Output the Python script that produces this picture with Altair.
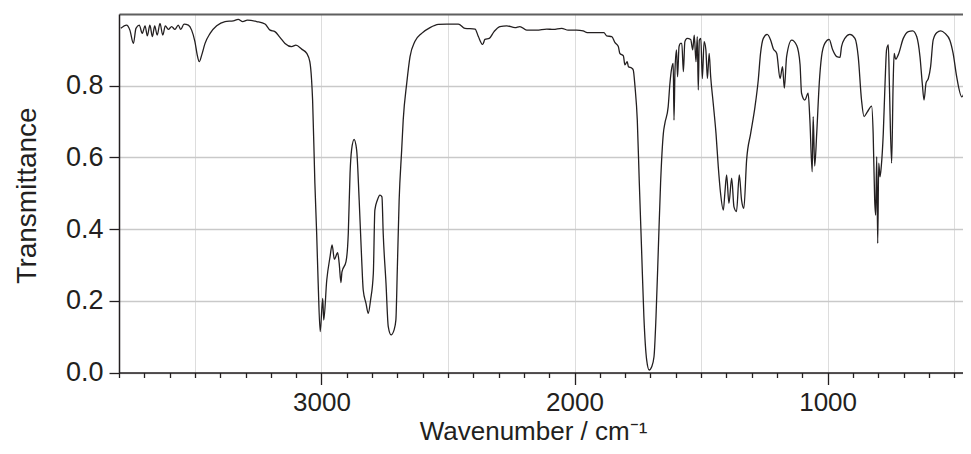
import altair as alt
import pandas as pd

wavenumber = [
    3793, 3770, 3757, 3743, 3733, 3720, 3708, 3697, 3688, 3678, 3668, 3659, 3649, 3638, 3627, 3617,
    3605, 3592, 3579, 3566, 3556, 3543, 3526, 3513, 3500, 3491, 3483, 3473, 3460, 3440, 3414, 3381,
    3348, 3329, 3311, 3293, 3256, 3223, 3203, 3184, 3164, 3144, 3118, 3101, 3078, 3058, 3046, 3039,
    3035, 3026, 3019, 3013, 3005, 2995, 2991, 2979, 2966, 2958, 2949, 2936, 2930, 2923, 2919, 2903,
    2894, 2887, 2881, 2871, 2861, 2851, 2841, 2835, 2824, 2815, 2806, 2795, 2789, 2779, 2769, 2761,
    2756, 2745, 2736, 2725, 2713, 2706, 2700, 2693, 2683, 2677, 2663, 2650, 2631, 2604, 2571, 2538,
    2505, 2459, 2433, 2393, 2380, 2363, 2354, 2337, 2318, 2295, 2268, 2235, 2216, 2189, 2150, 2110,
    2084, 2051, 2025, 1992, 1966, 1950, 1913, 1884, 1873, 1853, 1840, 1827, 1821, 1807, 1801, 1792,
    1787, 1774, 1768, 1761, 1752, 1744, 1735, 1726, 1715, 1705, 1695, 1686, 1678, 1669, 1660, 1649,
    1643, 1630, 1623, 1616, 1610, 1607, 1603, 1597, 1593, 1587, 1581, 1576, 1570, 1564, 1555, 1541,
    1533, 1527, 1520, 1515, 1511, 1507, 1501, 1495, 1488, 1481, 1475, 1468, 1462, 1452, 1441, 1432,
    1423, 1412, 1406, 1399, 1390, 1379, 1370, 1360, 1349, 1340, 1331, 1320, 1304, 1287, 1274, 1265,
    1254, 1239, 1225, 1215, 1201, 1188, 1178, 1171, 1162, 1142, 1122, 1109, 1103, 1090, 1077, 1070,
    1061, 1057, 1051, 1043, 1033, 1024, 1011, 994, 980, 964, 951, 945, 932, 912, 892, 879,
    866, 856, 843, 826, 820, 814, 810, 806, 802, 798, 793, 788, 780, 773, 767, 760,
    756, 747, 741, 737, 731, 721, 701, 681, 664, 648, 635, 626, 619, 611, 602, 593,
    583, 569, 553, 536, 517, 504, 490, 470, 457, 444, 434,
]

transmittance = [
    0.960, 0.969, 0.955, 0.918, 0.960, 0.969, 0.946, 0.967, 0.939, 0.969, 0.937, 0.967, 0.941, 0.974, 0.941, 0.967,
    0.957, 0.965, 0.957, 0.969, 0.957, 0.972, 0.969, 0.955, 0.923, 0.886, 0.867, 0.886, 0.918, 0.946, 0.967, 0.979,
    0.981, 0.985, 0.979, 0.983, 0.979, 0.972, 0.955, 0.951, 0.935, 0.918, 0.909, 0.913, 0.902, 0.890, 0.867, 0.816,
    0.760, 0.528, 0.389, 0.250, 0.114, 0.207, 0.146, 0.258, 0.323, 0.356, 0.316, 0.334, 0.305, 0.251, 0.281, 0.309,
    0.388, 0.556, 0.621, 0.650, 0.621, 0.481, 0.314, 0.230, 0.193, 0.165, 0.202, 0.277, 0.453, 0.481, 0.495, 0.490,
    0.388, 0.249, 0.128, 0.105, 0.119, 0.146, 0.295, 0.481, 0.621, 0.704, 0.807, 0.881, 0.923, 0.946, 0.962, 0.971,
    0.972, 0.972, 0.960, 0.958, 0.937, 0.915, 0.929, 0.932, 0.951, 0.965, 0.967, 0.962, 0.965, 0.955, 0.955, 0.958,
    0.957, 0.960, 0.955, 0.955, 0.953, 0.948, 0.948, 0.948, 0.939, 0.937, 0.920, 0.909, 0.890, 0.883, 0.858, 0.867,
    0.853, 0.849, 0.844, 0.797, 0.704, 0.528, 0.342, 0.156, 0.035, 0.007, 0.016, 0.044, 0.156, 0.342, 0.528, 0.667,
    0.695, 0.741, 0.807, 0.849, 0.862, 0.704, 0.844, 0.900, 0.825, 0.909, 0.918, 0.918, 0.839, 0.923, 0.932, 0.929,
    0.900, 0.941, 0.867, 0.937, 0.788, 0.927, 0.932, 0.820, 0.923, 0.900, 0.820, 0.890, 0.825, 0.751, 0.667, 0.574,
    0.500, 0.453, 0.500, 0.551, 0.472, 0.542, 0.462, 0.449, 0.551, 0.481, 0.458, 0.593, 0.667, 0.741, 0.816, 0.890,
    0.932, 0.943, 0.927, 0.904, 0.890, 0.820, 0.853, 0.793, 0.881, 0.927, 0.912, 0.860, 0.779, 0.760, 0.779, 0.704,
    0.560, 0.714, 0.576, 0.667, 0.807, 0.881, 0.918, 0.929, 0.900, 0.881, 0.879, 0.909, 0.932, 0.943, 0.932, 0.881,
    0.760, 0.714, 0.727, 0.743, 0.667, 0.481, 0.439, 0.602, 0.360, 0.584, 0.546, 0.574, 0.667, 0.807, 0.900, 0.914,
    0.807, 0.584, 0.807, 0.890, 0.874, 0.886, 0.932, 0.951, 0.953, 0.937, 0.881, 0.807, 0.760, 0.808, 0.820, 0.853,
    0.927, 0.948, 0.953, 0.946, 0.927, 0.890, 0.825, 0.769, 0.793, 0.862, 0.900,
]

x_ticks = list(range(500, 3801, 100))
y_ticks = [0.0, 0.2, 0.4, 0.6, 0.8, 1.0]
x_domain = [465, 3800]
y_domain = [0.0, 1.0]

df = pd.DataFrame({"wn": wavenumber, "T": transmittance})

INK = "#231f20"
GRID = "#c9c9c9"
FONT = "Liberation Sans"

x_axis = alt.Axis(
    values=x_ticks,
    title="Wavenumber / cm\u207b\u00b9",
    labelExpr="datum.value % 1000 === 0 ? format(datum.value, 'd') : ''",
    labelOverlap=False,
    labelFlush=False,
    labelFontSize=26,
    labelPadding=5,
    tickSize={"condition": {"test": "datum.value % 1000 === 0", "value": 12}, "value": 5},
    gridOpacity={"condition": {"test": "datum.value % 500 === 0", "value": 1}, "value": 0},
    grid=True,
    titleX=414,
    titleY=66.5,
    titleAlign="center",
    titleBaseline="alphabetic",
    titleFontSize=26,
)

y_axis = alt.Axis(
    values=y_ticks,
    labelExpr="datum.value >= 0.99 ? '' : format(datum.value, '.1f')",
    title="Transmittance",
    tickSize={"condition": {"test": "datum.value >= 0.99", "value": 0}, "value": 10},
    gridColor={"condition": {"test": "datum.value >= 0.99", "value": "#5f5f5f"}, "value": GRID},
    gridWidth={"condition": {"test": "datum.value >= 0.99", "value": 2}, "value": 1.5},
    labelPadding=6,
    labelFontSize=27,
    labelOverlap=False,
    labelFlush=False,
    grid=True,
    titleX=-84,
    titleY=181,
    titleAngle=-90,
    titleAlign="center",
    titleBaseline="alphabetic",
    titleFontSize=28,
)

line = alt.Chart(df).mark_line(color=INK, strokeWidth=1.3, interpolate="monotone", clip=True).encode(
    x=alt.X("wn:Q", scale=alt.Scale(domain=x_domain, reverse=True, nice=False, zero=False), axis=x_axis),
    y=alt.Y("T:Q", scale=alt.Scale(domain=y_domain, nice=False, zero=False), axis=y_axis),
    order=alt.Order("wn:Q", sort="descending"),
)

chart = (
    line
    .properties(width=844, height=358.5, autosize=alt.AutoSizeParams(type="none"),
                padding={"left": 111, "top": 6, "right": 0, "bottom": 73})
    .configure(font=FONT, background="white")
    .configure_view(stroke=None)
    .configure_axis(
        labelColor=INK, titleColor=INK, domainColor=INK, tickColor=INK,
        domainWidth=1.5, tickWidth=1.3,
        labelFont=FONT, titleFont=FONT, titleFontWeight="normal",
    )
)

chart.save("out.html", embed_options={"renderer": "svg", "actions": False})
